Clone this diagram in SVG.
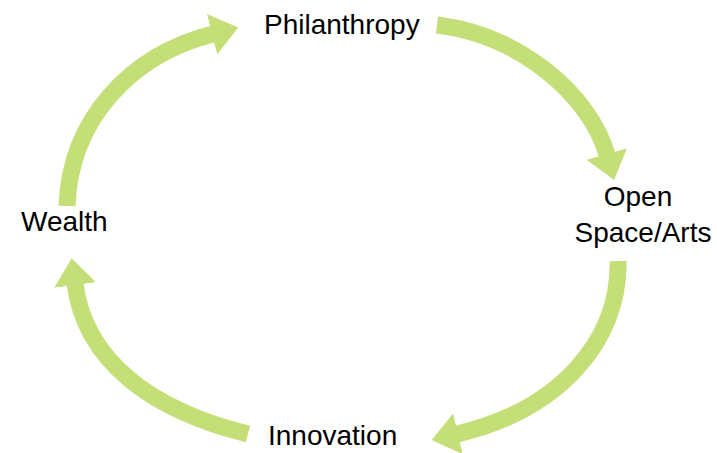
<svg xmlns="http://www.w3.org/2000/svg" width="717" height="453" viewBox="0 0 717 453">
<style>
.lbl{font-family:"Liberation Sans",Arial,sans-serif;font-size:28px;fill:#000}
.arc{fill:none;stroke:#c4df78;stroke-width:17;marker-end:url(#head)}
</style>
<defs>
<marker id="head" markerUnits="userSpaceOnUse" markerWidth="30" markerHeight="46" viewBox="0 -23 30 46" refX="1" refY="0" orient="auto">
<path d="M0,-21 L27,0 L0,21 Z" fill="#c4df78"/>
</marker>
</defs>
<rect width="717" height="453" fill="#fff"/>
<g id="connectors">
<path class="arc" d="M67,206 C70,120 130,55 213,34"/>
<path class="arc" d="M437,25 C520,35 590,95 607,155"/>
<path class="arc" d="M618,261 C620,340 560,410 457,434"/>
<path class="arc" d="M248,434 C150,410 85,360 75,284"/>
</g>
<g id="philanthropy"><text class="lbl" x="264" y="34">Philanthropy</text></g>
<g id="openspace"><text class="lbl" x="638" y="206" text-anchor="middle">Open</text><text class="lbl" x="643" y="242" text-anchor="middle">Space/Arts</text></g>
<g id="innovation"><text class="lbl" x="268" y="445">Innovation</text></g>
<g id="wealth"><text class="lbl" x="21" y="231">Wealth</text></g>
</svg>
